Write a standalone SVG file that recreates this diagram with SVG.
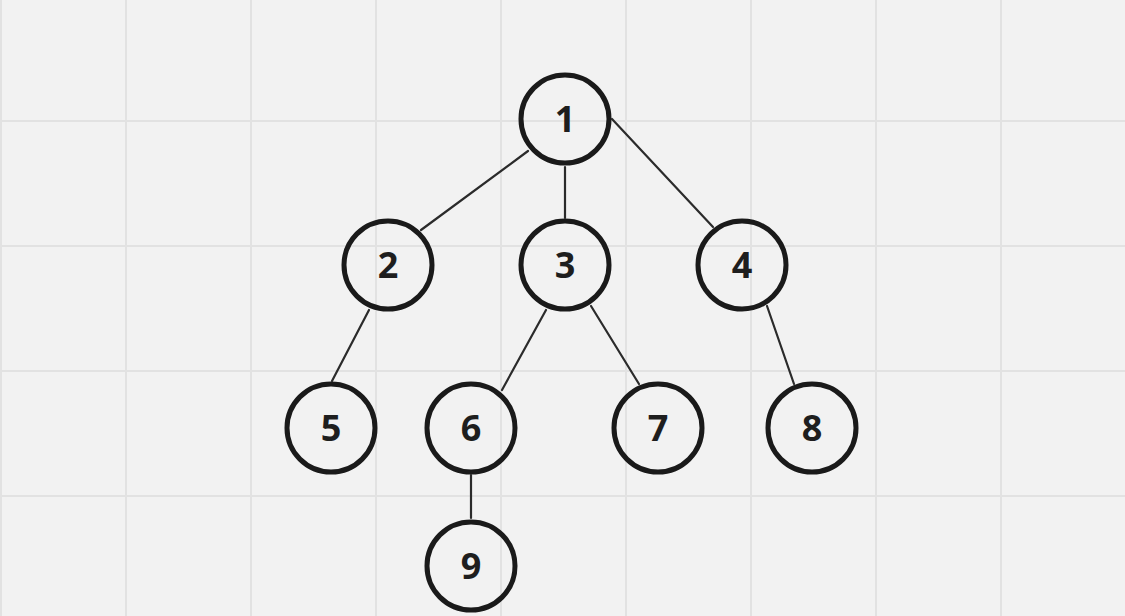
<svg xmlns="http://www.w3.org/2000/svg" width="1125" height="616" viewBox="0 0 1125 616">
<style>
.grid line{stroke:#e2e2e2;stroke-width:2}
.edges line{stroke:#2b2b2b;stroke-width:2.2;stroke-linecap:round}
.node circle{fill:none;stroke:#1a1a1a;stroke-width:5}
.node text{font-family:"Open Sans","Noto Sans",sans-serif;font-weight:700;font-size:36px;fill:#1e1e1e;text-anchor:middle}
</style>
<rect width="1125" height="616" fill="#f2f2f2"/>
<g class="grid">
<line x1="1" y1="0" x2="1" y2="616"/>
<line x1="126" y1="0" x2="126" y2="616"/>
<line x1="251" y1="0" x2="251" y2="616"/>
<line x1="376" y1="0" x2="376" y2="616"/>
<line x1="501" y1="0" x2="501" y2="616"/>
<line x1="626" y1="0" x2="626" y2="616"/>
<line x1="751" y1="0" x2="751" y2="616"/>
<line x1="876" y1="0" x2="876" y2="616"/>
<line x1="1001" y1="0" x2="1001" y2="616"/>
<line x1="0" y1="121" x2="1125" y2="121"/>
<line x1="0" y1="246" x2="1125" y2="246"/>
<line x1="0" y1="371" x2="1125" y2="371"/>
<line x1="0" y1="496" x2="1125" y2="496"/>
</g>
<g class="edges" id="connectors">
<line x1="528" y1="151" x2="421" y2="230"/>
<line x1="565" y1="167" x2="565" y2="218"/>
<line x1="612" y1="119" x2="713" y2="227"/>
<line x1="369" y1="310" x2="332" y2="381"/>
<line x1="546" y1="310" x2="502" y2="390"/>
<line x1="591" y1="306" x2="639" y2="384"/>
<line x1="767" y1="306" x2="794" y2="384"/>
<line x1="471" y1="475" x2="471" y2="518"/>
</g>
<g class="node" id="n1"><circle cx="565" cy="119" r="44"/><text x="565" y="132">1</text></g>
<g class="node" id="n2"><circle cx="388" cy="265" r="44"/><text x="388" y="278">2</text></g>
<g class="node" id="n3"><circle cx="565" cy="265" r="44"/><text x="565" y="278">3</text></g>
<g class="node" id="n4"><circle cx="742" cy="265" r="44"/><text x="742" y="278">4</text></g>
<g class="node" id="n5"><circle cx="331" cy="428" r="44"/><text x="331" y="441">5</text></g>
<g class="node" id="n6"><circle cx="471" cy="428" r="44"/><text x="471" y="441">6</text></g>
<g class="node" id="n7"><circle cx="658" cy="428" r="44"/><text x="658" y="441">7</text></g>
<g class="node" id="n8"><circle cx="812" cy="428" r="44"/><text x="812" y="441">8</text></g>
<g class="node" id="n9"><circle cx="471" cy="566" r="44"/><text x="471" y="579">9</text></g>
</svg>
